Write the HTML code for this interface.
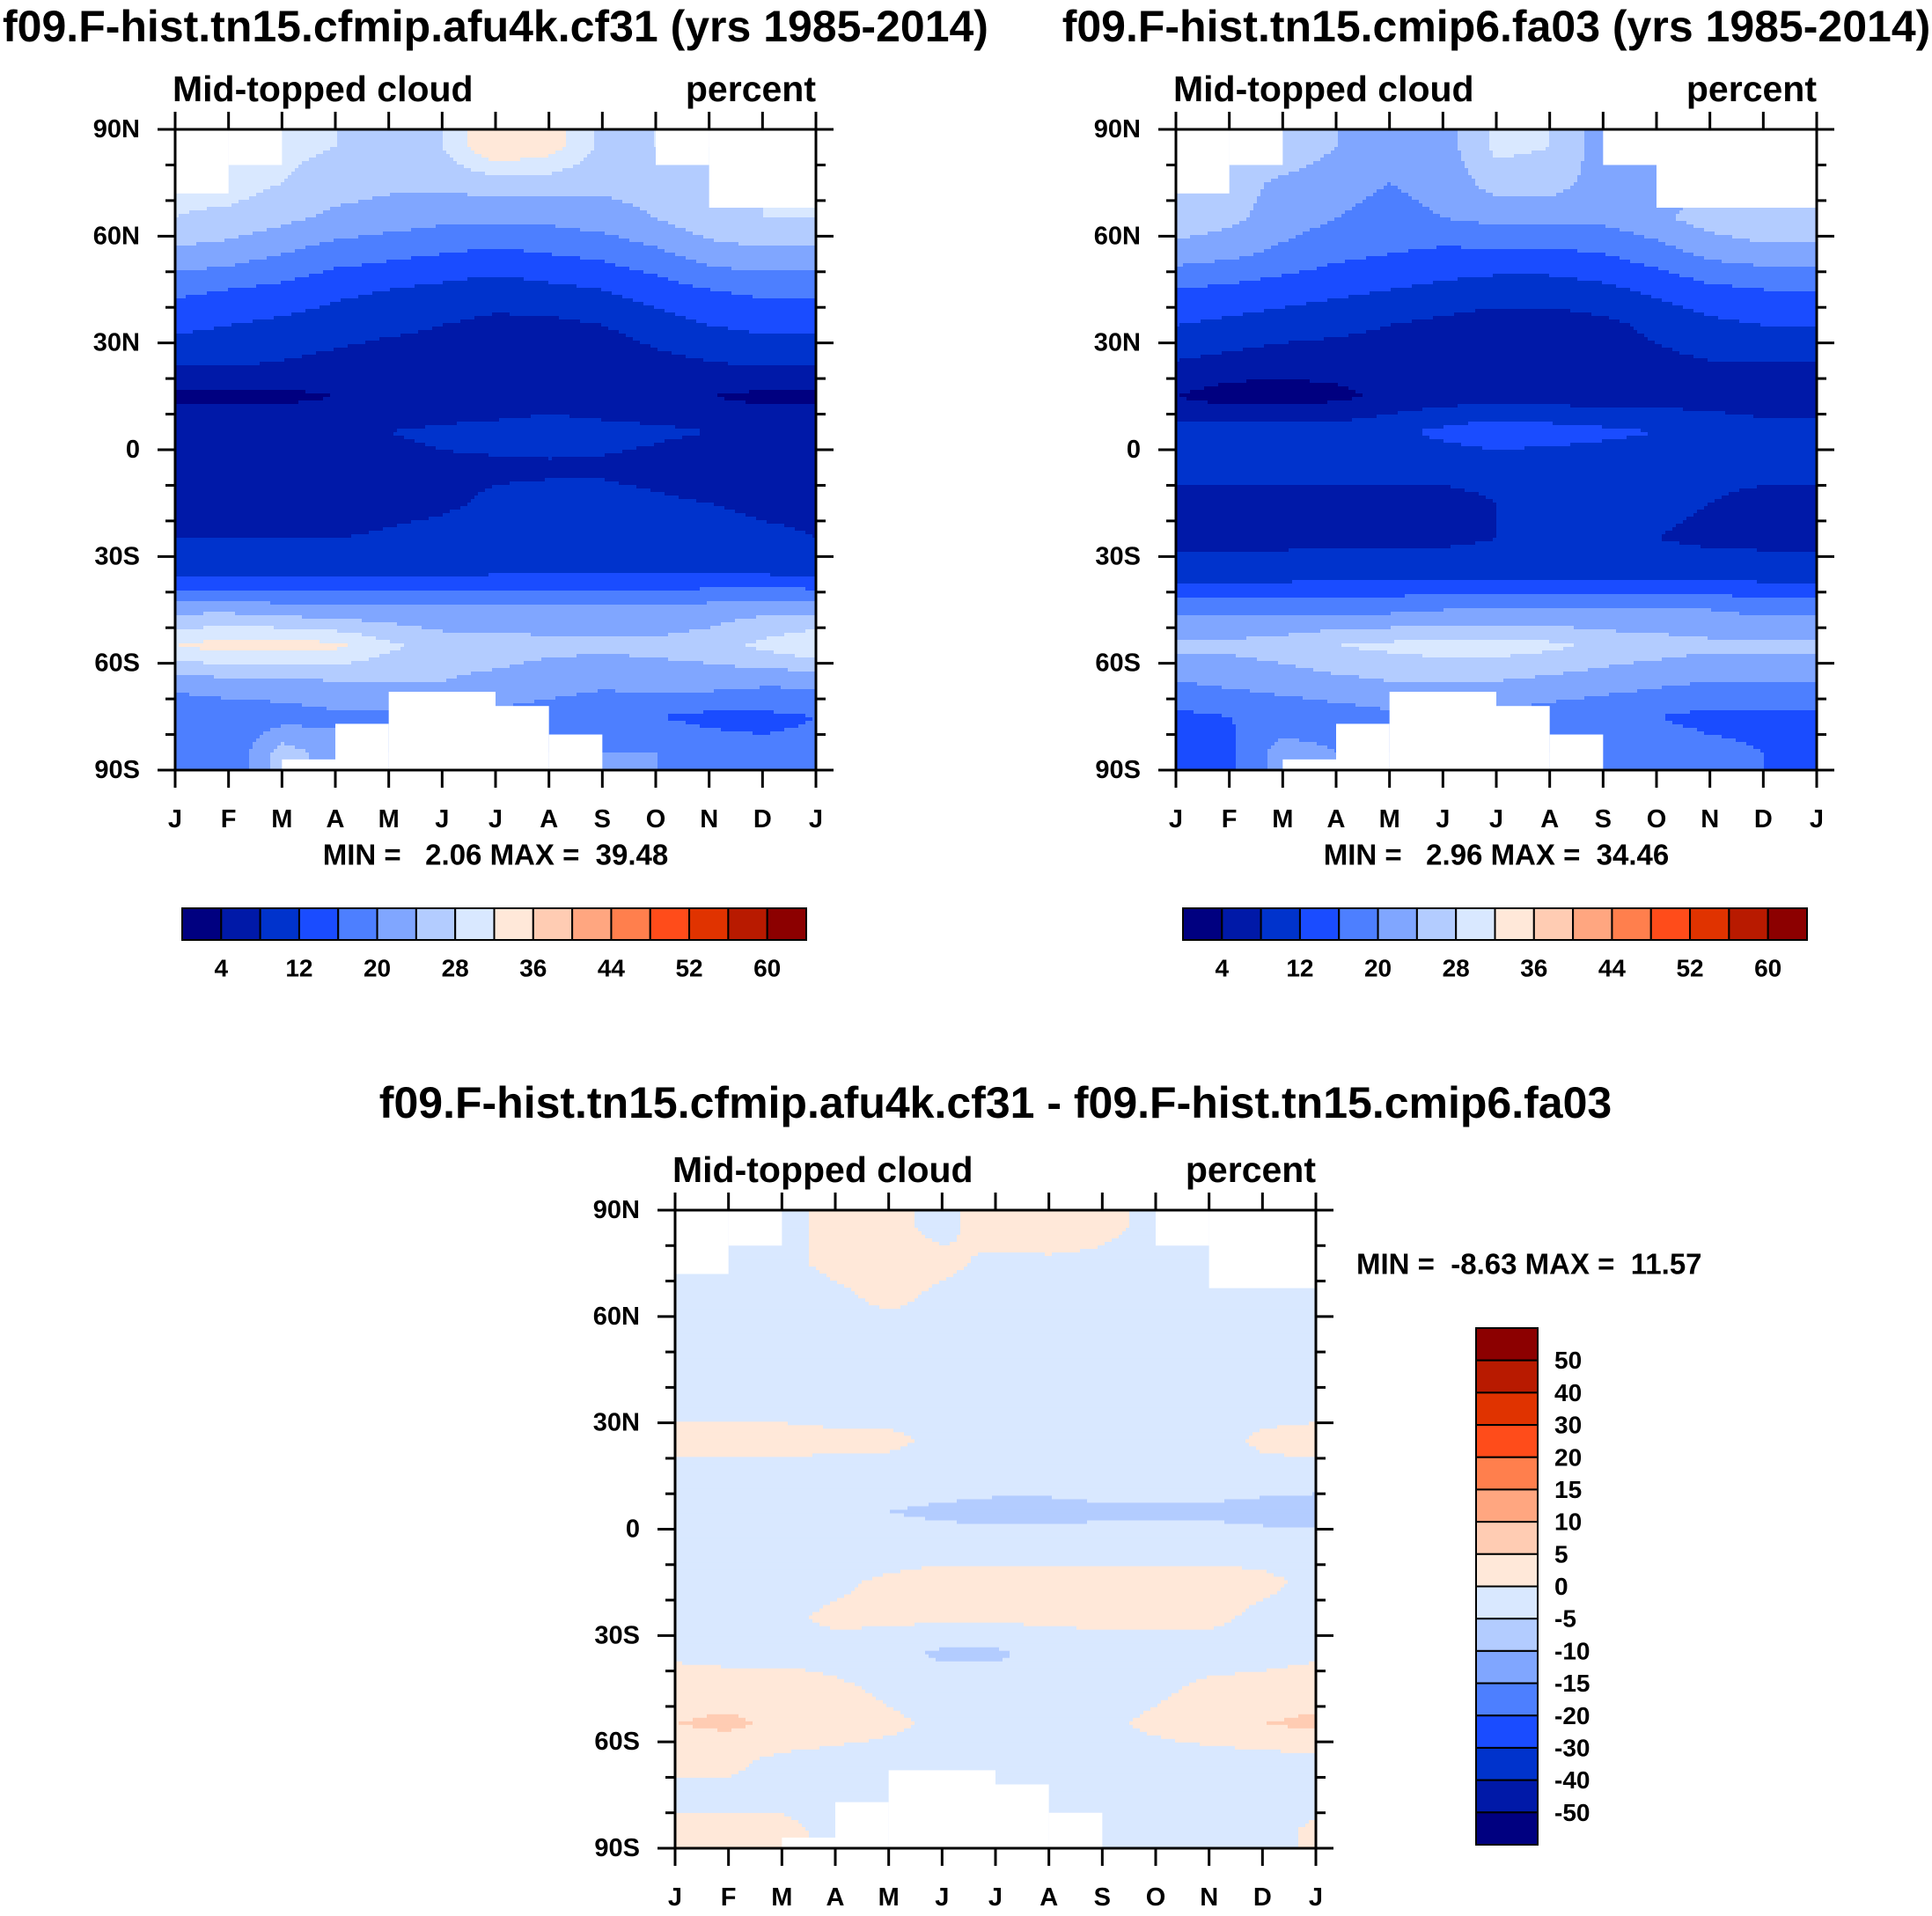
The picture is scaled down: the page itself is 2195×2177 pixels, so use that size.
<!DOCTYPE html>
<html><head><meta charset="utf-8"><style>
html,body{margin:0;padding:0;background:#fff;}
svg{display:block;font-family:"Liberation Sans",Arial,sans-serif;font-weight:bold;}
text{white-space:pre;}
</style></head><body>
<svg id="chart" width="2195" height="2177" viewBox="0 0 2195 2177" xmlns="http://www.w3.org/2000/svg" xml:space="preserve"></svg>
<script>
const months = ["J","F","M","A","M","J","J","A","S","O","N","D","J"];
const lats = [85,75,65,55,45,35,25,15,5,-5,-15,-25,-35,-45,-55,-65,-75,-85];
const yTickLabels = ["90N","60N","30N","0","30S","60S","90S"];
const cloudA = [
[30,30,29,28,27,28,36,34,27,28,28,28,28],
[29,30,28,26,25,25,26,26,25,26,27,28,28],
[28,27,25,23,22,21,21,21,22,24,27,28,28],
[23,22,20,18,17,16,15,16,17,19,22,23,23],
[17,16,15,13,12,11,10,11,12,14,16,17,17],
[13,12,11,10,9,8,7,7,8,10,12,13,13],
[9,9,8,7,6,6,5,4,5,7,8,9,9],
[3,3,3,4,4,4,4,5,4,4,4,3,3],
[7,7,7,8,8,9,10,11,10,9,8,7,7],
[7,6,5,5,6,7,7,7,7,6,4,5,7],
[7,6,5,4,6,7,9,10,10,9,8,7,7],
[8,8,8,8,9,10,11,11,11,11,10,9,8],
[11,11,11,11,11,11,12,12,12,12,12,12,11],
[23,23,22,21,21,21,21,21,21,21,22,23,23],
[32,34,34,33,29,26,26,25,25,25,26,29,32],
[22,23,23,24,24,24,23,22,21,22,22,21,21],
[16,17,18,19,19,19,19,18,17,16,15,15,16],
[16,16,26,22,20,20,20,20,20,20,18,17,17]];
const cloudB = [
[30,30,28,24,20,22,29,28,22,24,28,29,30],
[28,26,23,21,20,21,26,26,22,22,24,27,28],
[27,25,22,20,19,20,21,21,21,23,26,28,28],
[22,21,19,17,16,15,15,15,16,18,21,22,22],
[16,15,14,13,12,11,10,10,11,13,15,16,16],
[12,11,10,9,8,7,6,6,7,9,11,12,12],
[8,7,6,6,6,6,5,5,6,7,8,8,8],
[4,2,2,3,5,6,6,6,6,6,6,5,5],
[10,10,10,10,11,13,15,14,13,12,11,10,10],
[9,9,9,9,9,9,9,9,9,9,9,9,9],
[7,7,7,7,7,7,8,9,10,9,8,7,7],
[7,7,7,7,7,7,8,9,9,8,7,7,7],
[10,10,10,11,11,11,11,11,11,11,11,10,10],
[19,19,19,19,19,20,20,20,20,20,20,19,19],
[25,25,26,28,29,30,30,29,27,26,25,25,25],
[20,21,22,23,24,24,24,23,22,21,20,20,20],
[15,16,17,18,19,19,19,18,17,16,15,15,15],
[14,15,22,20,20,20,20,20,20,18,17,16,15]];
const cloudDiff = [
[-2,-2,-1,1,1,-1,2,3,1,-1,-2,-2,-2],
[-2,-2,-1,1,2,1,-1,-1,-1,-2,-2,-2,-2],
[-2,-2,-2,-1,1,-1,-2,-2,-2,-2,-2,-2,-2],
[-2,-2,-2,-2,-2,-2,-2,-2,-2,-2,-2,-2,-2],
[-2,-2,-2,-2,-2,-2,-2,-2,-2,-2,-2,-2,-2],
[-2,-2,-2,-2,-2,-2,-2,-2,-2,-2,-2,-2,-2],
[2,2,2,1,1,-1,-2,-2,-2,-2,-2,1,2],
[-2,-2,-2,-2,-2,-2,-2,-2,-2,-2,-2,-2,-2],
[-4,-3,-2,-3,-5,-6,-7,-7,-6,-6,-6,-7,-8],
[-2,-2,-2,-2,-3,-2,-2,-2,-2,-2,-2,-2,-2],
[-2,-2,-2,-1,1,2,2,2,2,2,2,1,-1],
[-1,-2,-1,1,1,1,1,1,1,1,1,-1,-2],
[-1,-2,-2,-2,-3,-6,-6,-3,-2,-2,-2,-2,-1],
[3,3,3,1,-1,-2,-2,-2,-2,-1,1,2,3],
[5,6,4,3,1,-1,-1,-1,-1,1,3,5,6],
[1,1,-1,-2,-2,-2,-2,-2,-2,-2,-2,-2,-1],
[-1,-1,-1,-2,-2,-2,-2,-2,-2,-2,-2,-2,-2],
[1,1,1,-1,-2,-2,-2,-2,-1,-2,-2,-2,1]];
const levelsTop = [4,8,12,16,20,24,28,32,36,40,44,48,52,56,60];
const levelsDiff = [-50,-40,-30,-20,-15,-10,-5,0,5,10,15,20,30,40,50];
const topBarLabels = ["4","12","20","28","36","44","52","60"];
const palette = ["#000080","#0019a8","#0033cc","#1a4cff","#4d7fff","#80a6ff","#b3ccff","#d9e8ff","#ffe8d9","#ffccb3","#ffa680","#ff7f4d","#ff4c1a","#e03300","#b81a00","#8c0000"];
// masks: [monthStart, monthEnd, latFrom, latTo] (missing data)
const masksA = [[0,1,90,72],[1,2,90,80],[9,10,90,80],[10,12,90,68],[2,3,-90,-87],[3,4,-90,-77],[4,6,-90,-68],[6,7,-90,-72],[7,8,-90,-80]];
const masksB = [[0,1,90,72],[1,2,90,80],[8,9,90,80],[9,12,90,68],[2,3,-90,-87],[3,4,-90,-77],[4,6,-90,-68],[6,7,-90,-72],[7,8,-90,-80]];
const masksD = [[0,1,90,72],[1,2,90,80],[9,10,90,80],[10,12,90,68],[2,3,-90,-87],[3,4,-90,-77],[4,6,-90,-68],[6,7,-90,-72],[7,8,-90,-80]];

const NS="http://www.w3.org/2000/svg";
const svg=document.getElementById('chart');
function mk(tag,attrs,parent){const e=document.createElementNS(NS,tag);for(const k in attrs)e.setAttribute(k,attrs[k]);(parent||svg).appendChild(e);return e;}
function txt(x,y,s,size,anchor,parent,name){const t=mk('text',{x:x,y:y,'font-size':size,'text-anchor':anchor||'middle','dominant-baseline':'central',fill:'#000'},parent);t.textContent=s;


return t;}
function levelIndex(v,levels){let i=0;while(i<levels.length&&v>=levels[i])i++;return i;}
function sample(data,lat,m){
  let r=(85-lat)/10; r=Math.max(0,Math.min(lats.length-1,r));
  const r0=Math.min(Math.floor(r),lats.length-2), fr=r-r0;
  let c=Math.max(0,Math.min(12,m)); const c0=Math.min(Math.floor(c),11), fc=c-c0;
  const a=data[r0][c0],b=data[r0][c0+1],cc=data[r0+1][c0],d=data[r0+1][c0+1];
  return a*(1-fr)*(1-fc)+b*(1-fr)*fc+cc*fr*(1-fc)+d*fr*fc;
}
function panel(name,x0,y0,w,h,data,levels,masks,title,minmax,mmPos){
  const g=mk('g',{});
  
  
  const xS=m=>x0+m/12*w, yS=lat=>y0+(90-lat)/180*h;
  const step=4, nx=Math.round(w/step), ny=Math.round(h/step);
  for(let j=0;j<ny;j++){
    const lat=90-(j+0.5)/ny*180;
    let runStart=0,runC=-1;
    for(let i=0;i<=nx;i++){
      let ci=-1;
      if(i<nx){const m=(i+0.5)/nx*12;ci=levelIndex(sample(data,lat,m),levels);}
      if(ci!==runC){
        if(runC>=0){
          const r=mk('rect',{x:xS(runStart/nx*12),y:yS(90-j/ny*180),width:xS(i/nx*12)-xS(runStart/nx*12)+0.6,height:h/ny+0.6,fill:palette[runC]},g);
          
          
        }
        runStart=i;runC=ci;
      }
    }
  }
  masks.forEach(mm=>{
    const r=mk('rect',{x:xS(mm[0]),y:Math.min(yS(mm[2]),yS(mm[3])),width:xS(mm[1])-xS(mm[0]),height:Math.abs(yS(mm[3])-yS(mm[2])),fill:'#fff'},g);
    
    
  });
  const fr=mk('rect',{x:x0,y:y0,width:w,height:h,fill:'none',stroke:'#000','stroke-width':3},g);
  
  
  for(let m=0;m<=12;m++){
    const x=xS(m);
    mk('line',{x1:x,y1:y0+h,x2:x,y2:y0+h+20,stroke:'#000','stroke-width':3},g);
    mk('line',{x1:x,y1:y0,x2:x,y2:y0-20,stroke:'#000','stroke-width':3},g);
    txt(x,y0+h+56,months[m],29,'middle',g,'x-tick-label');
  }
  for(let lat=90;lat>=-90;lat-=10){
    const y=yS(lat), major=lat%30===0, L=major?20:11;
    mk('line',{x1:x0,y1:y,x2:x0-L,y2:y,stroke:'#000','stroke-width':3},g);
    mk('line',{x1:x0+w,y1:y,x2:x0+w+L,y2:y,stroke:'#000','stroke-width':3},g);
  }
  yTickLabels.forEach((s,i)=>txt(x0-40,yS(90-30*i),s,29,'end',g,'y-tick-label'));
  txt(x0-3,y0-46,'Mid-topped cloud',41,'start',g,'variable-label');
  txt(x0+w,y0-46,'percent',41,'end',g,'units-label');
  if(title)txt(title[1],title[2],title[0],title[3],'middle',g,'panel-title');
  txt(mmPos[0],mmPos[1],minmax,33,mmPos[2],g,'min-max-label');
}
panel('panel-cf31',199,147,728,728,cloudA,levelsTop,masksA,['f09.F-hist.tn15.cfmip.afu4k.cf31 (yrs 1985-2014)',563,30,50],'MIN =   2.06 MAX =  39.48',[563,971,'middle']);
panel('panel-fa03',1336,147,728,728,cloudB,levelsTop,masksB,['f09.F-hist.tn15.cmip6.fa03 (yrs 1985-2014)',1700,30,50],'MIN =   2.96 MAX =  34.46',[1700,971,'middle']);
panel('panel-diff',767,1375,728,725,cloudDiff,levelsDiff,masksD,['f09.F-hist.tn15.cfmip.afu4k.cf31 - f09.F-hist.tn15.cmip6.fa03',1131,1253,50],'MIN =  -8.63 MAX =  11.57',[1541,1436,'start']);

function hbar(name,x0,y0,w,h){
  const g=mk('g',{});
  
  
  const bw=w/16;
  palette.forEach((c,i)=>{const r=mk('rect',{x:x0+i*bw,y:y0,width:bw,height:h,fill:c,stroke:'#000','stroke-width':2},g);
    
    });
  topBarLabels.forEach((s,i)=>txt(x0+(2*i+1)*bw,y0+h+32,s,28,'middle',g,'colorbar-label'));
}
hbar('colorbar-cf31',207,1032,709,36);
hbar('colorbar-fa03',1344,1032,709,36);
(function(){
  const g=mk('g',{});
  
  
  const x0=1677,y0=1509,w=70,h=587,bh=h/16;
  palette.slice().reverse().forEach((c,i)=>{const r=mk('rect',{x:x0,y:y0+i*bh,width:w,height:bh,fill:c,stroke:'#000','stroke-width':2},g);
    
    });
  levelsDiff.slice().reverse().forEach((v,i)=>txt(x0+w+19,y0+(i+1)*bh,String(v),28,'start',g,'colorbar-label'));
})();
</script>
</body></html>
